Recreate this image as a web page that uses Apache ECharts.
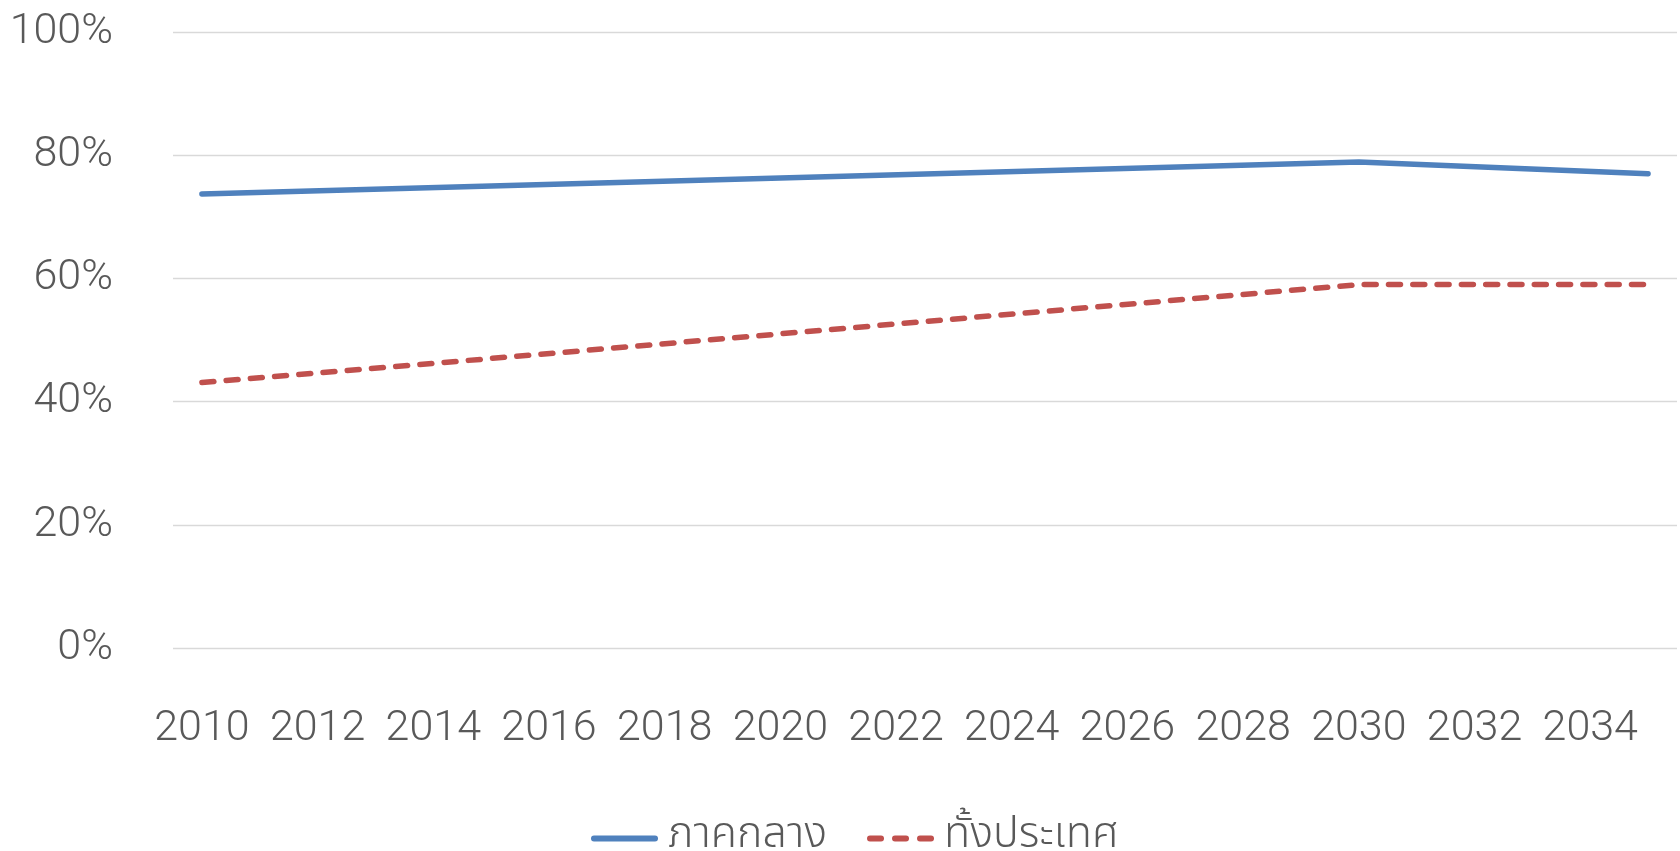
<!DOCTYPE html>
<html>
<head>
<meta charset="utf-8">
<script src="https://cdn.jsdelivr.net/npm/echarts@6/dist/echarts.min.js"></script>
<style>
html,body{margin:0;padding:0;background:#fff;}
#chart{width:1680px;height:851px;}
</style>
</head>
<body>
<div id="chart"></div>
<script>
const years = ['2010','2011','2012','2013','2014','2015','2016','2017','2018','2019','2020','2021','2022','2023','2024','2025','2026','2027','2028','2029','2030','2031','2032','2033','2034','2035'];
const pointYears = ['2010','2015','2020','2025','2030','2035'];
const centralValues = [0.737, 0.750, 0.763, 0.776, 0.789, 0.770];
const nationalValues = [0.431, 0.470, 0.510, 0.550, 0.590, 0.590];
const seriesNames = ['ภาคกลาง', 'ทั้งประเทศ'];
const yTicks = [0, 0.2, 0.4, 0.6, 0.8, 1.0];

const numFont = "Roboto, 'Liberation Sans', sans-serif";
const thaiFont = "'Noto Sans Thai', 'Noto Sans Thai Looped', 'Noto Sans', sans-serif";

const solidIcon = 'path://M3,0H64A3,3 0 0 1 64,6H3A3,3 0 0 1 3,0Z';
const dashIcon = 'path://M3,0H14A3,3 0 0 1 14,6H3A3,3 0 0 1 3,0Z M28,0H39A3,3 0 0 1 39,6H28A3,3 0 0 1 28,0Z M53,0H64A3,3 0 0 1 64,6H53A3,3 0 0 1 53,0Z';

const chart = echarts.init(document.getElementById('chart'));
chart.setOption({
  animation: false,
  grid: { left: 173, right: 3, top: 32, bottom: 203, containLabel: false, outerBoundsMode: 'none' },
  xAxis: {
    type: 'category',
    data: years,
    boundaryGap: true,
    axisLine: { show: false },
    axisTick: { show: false },
    axisLabel: { interval: 1, color: '#595959', fontSize: 43, fontWeight: 300, fontFamily: numFont, margin: 60 },
    splitLine: { show: false }
  },
  yAxis: {
    type: 'value',
    min: yTicks[0],
    max: yTicks[yTicks.length - 1],
    interval: 0.2,
    axisLine: { show: false },
    axisTick: { show: false },
    axisLabel: {
      color: '#595959', fontSize: 43, fontWeight: 300, fontFamily: numFont, margin: 60,
      padding: [0, 0, 22, 0],
      formatter: v => Math.round(v * 100) + '%'
    },
    splitLine: { lineStyle: { color: '#d9d9d9', width: 1.3 } }
  },
  legend: {
    left: 586,
    top: 812,
    itemWidth: 67,
    itemHeight: 6,
    itemGap: 40,
    textStyle: { color: '#595959', fontSize: 43, fontWeight: 300, fontFamily: thaiFont, padding: [0, 0, 0, 5] },
    data: [
      { name: seriesNames[0], icon: solidIcon, itemStyle: { color: '#4F81BD' } },
      { name: seriesNames[1], icon: dashIcon, itemStyle: { color: '#C0504D' } }
    ]
  },
  series: [
    {
      name: seriesNames[0],
      type: 'line',
      data: pointYears.map((y, i) => [y, centralValues[i]]),
      symbol: 'none',
      lineStyle: { color: '#4F81BD', width: 5.5, cap: 'round', join: 'round' },
      itemStyle: { color: '#4F81BD' }
    },
    {
      name: seriesNames[1],
      type: 'line',
      data: pointYears.map((y, i) => [y, nationalValues[i]]),
      symbol: 'none',
      lineStyle: { color: '#C0504D', width: 5.5, type: [12, 12.3], cap: 'round', join: 'round' },
      itemStyle: { color: '#C0504D' }
    }
  ]
});
</script>
</body>
</html>
